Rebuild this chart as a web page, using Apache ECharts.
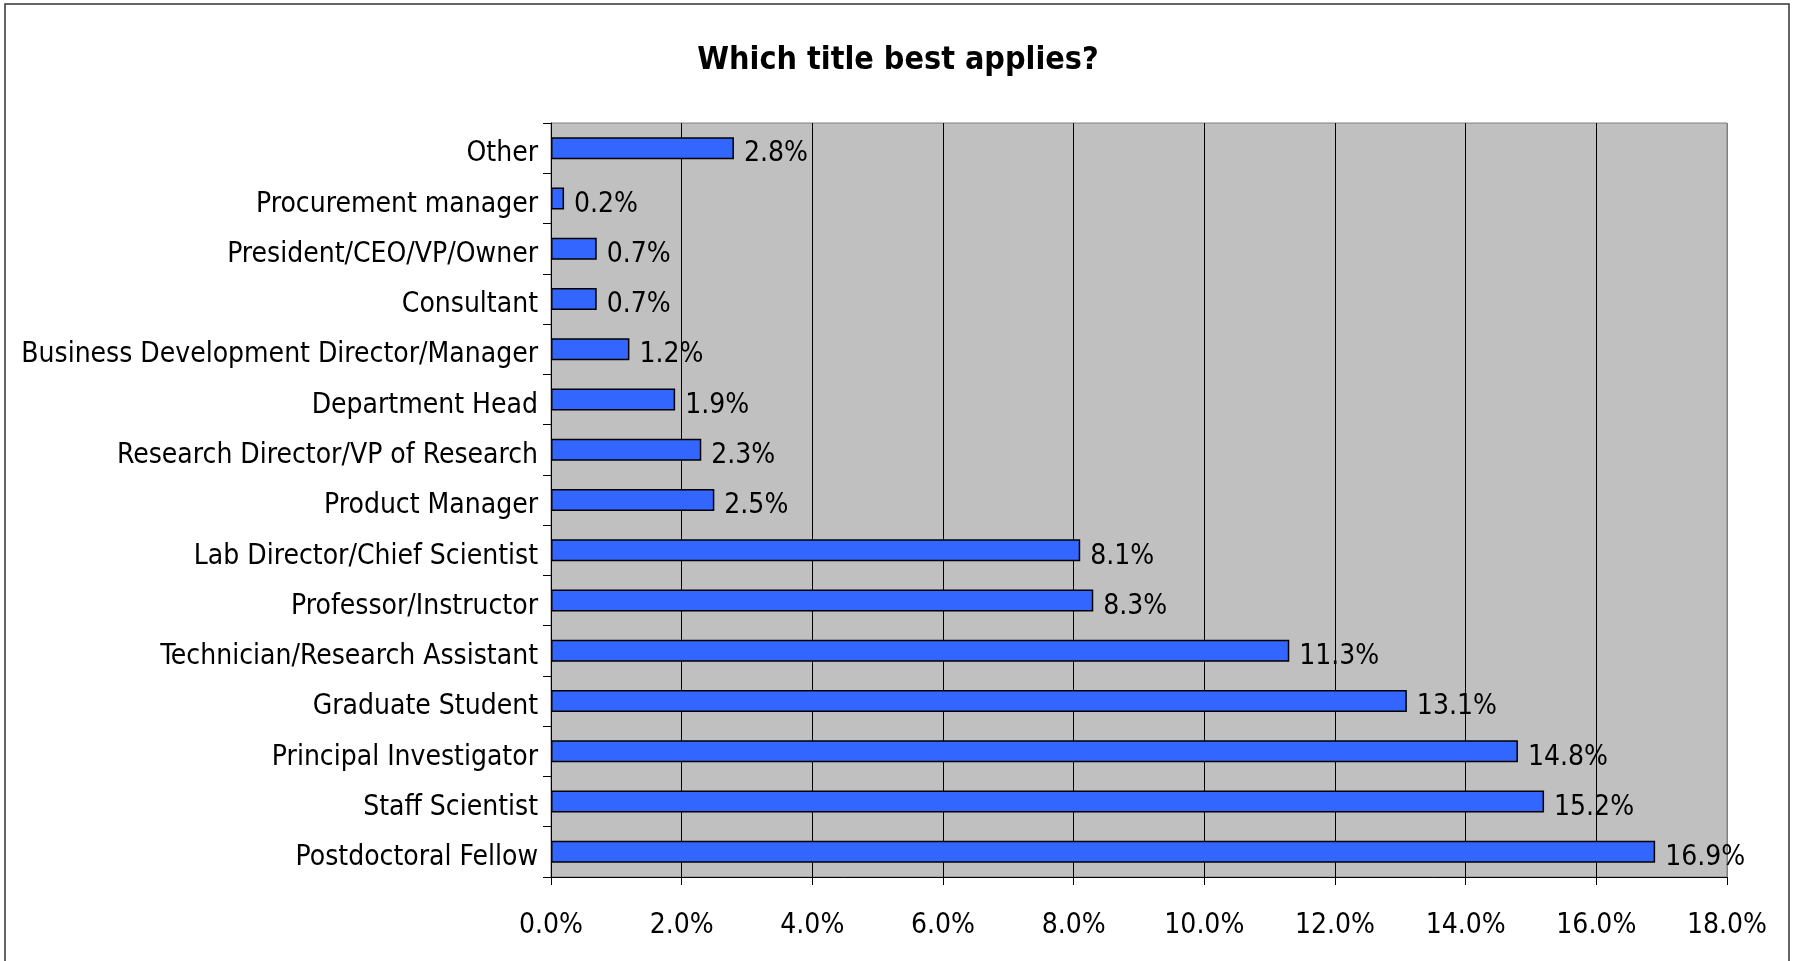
<!DOCTYPE html>
<html>
<head>
<meta charset="utf-8">
<title>Which title best applies?</title>
<script src="https://cdn.jsdelivr.net/npm/echarts@6/dist/echarts.min.js"></script>
<style>
  html, body { margin: 0; padding: 0; background: #ffffff; }
  #chart { width: 1796px; height: 961px; }
</style>
</head>
<body>
<div id="chart"></div>
<script>
// Job titles, listed from the bottom row of the chart to the top row
const titles = [
  'Postdoctoral Fellow',
  'Staff Scientist',
  'Principal Investigator',
  'Graduate Student',
  'Technician/Research Assistant',
  'Professor/Instructor',
  'Lab Director/Chief Scientist',
  'Product Manager',
  'Research Director/VP of Research',
  'Department Head',
  'Business Development Director/Manager',
  'Consultant',
  'President/CEO/VP/Owner',
  'Procurement manager',
  'Other'
];

// Share of respondents (%) for each title, same order as above
const shares = [16.9, 15.2, 14.8, 13.1, 11.3, 8.3, 8.1, 2.5, 2.3, 1.9, 1.2, 0.7, 0.7, 0.2, 2.8];

const FONT = "'DejaVu Sans Condensed', 'Liberation Sans Narrow', 'DejaVu Sans', sans-serif";

const chart = echarts.init(document.getElementById('chart'), null, { renderer: 'canvas' });

chart.setOption({
  backgroundColor: '#ffffff',
  animation: false,
  title: {
    text: 'Which title best applies?',
    left: 'center',
    top: 40,
    textStyle: { fontFamily: FONT, fontSize: 32, fontWeight: 'bold', color: '#000' }
  },
  graphic: [{
    type: 'rect',
    shape: { x: 5, y: 4, width: 1784, height: 975 },
    style: { fill: 'none', stroke: '#333333', lineWidth: 1.5 },
    silent: true
  }],
  grid: {
    left: 551,
    right: 69,
    top: 123,
    bottom: 84,
    show: true,
    backgroundColor: '#c0c0c0',
    borderColor: '#808080',
    borderWidth: 1
  },
  xAxis: {
    type: 'value',
    min: 0,
    max: 18,
    interval: 2,
    axisLine: { show: true, lineStyle: { color: '#000', width: 1 } },
    axisTick: { show: true, length: 8, lineStyle: { color: '#000' } },
    axisLabel: {
      margin: 35,
      fontFamily: FONT,
      fontSize: 28,
      color: '#000',
      formatter: v => v.toFixed(1) + '%'
    },
    splitLine: {
      show: true,
      lineStyle: {
        width: 1,
        color: ['#000', '#000', '#000', '#000', '#000', '#000', '#000', '#000', '#000', '#808080']
      }
    }
  },
  yAxis: {
    type: 'category',
    data: titles,
    axisLine: { show: true, lineStyle: { color: '#000', width: 1 } },
    axisTick: { show: true, length: 8, alignWithLabel: false, lineStyle: { color: '#000' } },
    axisLabel: {
      margin: 13,
      color: '#000',
      formatter: v => '{t|' + v + '}',
      rich: {
        t: { fontFamily: FONT, fontSize: 28, color: '#000', padding: [12, 0, 0, 0] }
      }
    },
    splitLine: { show: false }
  },
  series: [{
    type: 'bar',
    data: shares,
    barWidth: 22,
    itemStyle: { color: '#3366ff', borderColor: '#000', borderWidth: 1.5 },
    label: {
      show: true,
      position: 'right',
      distance: 10,
      offset: [0, 6],
      fontFamily: FONT,
      fontSize: 28,
      color: '#000',
      formatter: p => p.value.toFixed(1) + '%'
    }
  }]
});
</script>
</body>
</html>
